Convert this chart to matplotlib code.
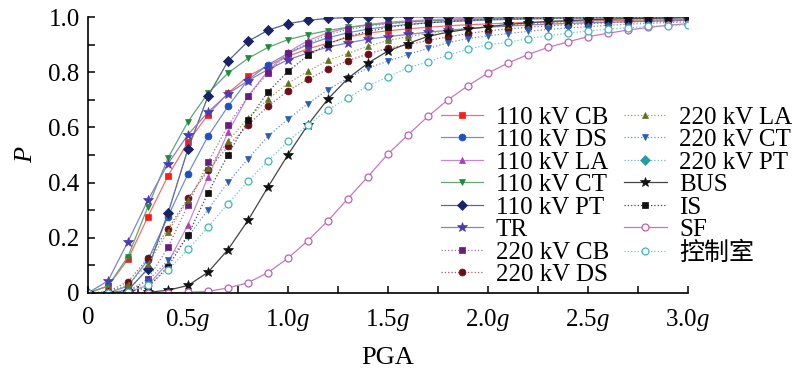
import matplotlib
matplotlib.use("Agg")
import matplotlib.pyplot as plt
from matplotlib import font_manager
from matplotlib.ticker import MultipleLocator

serif = 'Liberation Serif'
try:
    font_manager.findfont(serif, fallback_to_default=False)
except Exception:
    serif = 'DejaVu Serif'

plt.rcParams['font.family'] = [serif, 'Noto Sans CJK SC']
plt.rcParams['mathtext.fontset'] = 'custom'
plt.rcParams['mathtext.rm'] = serif
plt.rcParams['mathtext.it'] = serif + ':italic'

pga = [0.0, 0.1, 0.2, 0.3, 0.4, 0.5, 0.6, 0.7, 0.8, 0.9, 1.0,
       1.1, 1.2, 1.3, 1.4, 1.5, 1.6, 1.7, 1.8, 1.9, 2.0,
       2.1, 2.2, 2.3, 2.4, 2.5, 2.6, 2.7, 2.8, 2.9, 3.0]

cb110 = [0, 0.025, 0.122, 0.277, 0.424, 0.547, 0.646, 0.724, 0.785, 0.824, 0.857,
         0.885, 0.905, 0.927, 0.942, 0.95, 0.957, 0.963, 0.968, 0.972, 0.975,
         0.978, 0.98, 0.982, 0.984, 0.986, 0.987, 0.988, 0.989, 0.99, 0.991]
ds110 = [0, 0, 0.025, 0.12, 0.277, 0.432, 0.568, 0.676, 0.772, 0.827, 0.868,
         0.9, 0.925, 0.943, 0.956, 0.966, 0.973, 0.979, 0.983, 0.986, 0.989,
         0.991, 0.993, 0.994, 0.995, 0.996, 0.997, 0.997, 0.998, 0.998, 0.999]
la110 = [0, 0, 0.003, 0.028, 0.11, 0.247, 0.42, 0.582, 0.713, 0.805, 0.872,
         0.915, 0.943, 0.961, 0.973, 0.981, 0.986, 0.99, 0.993, 0.995, 0.996,
         0.997, 0.998, 0.998, 0.999, 0.999, 0.999, 1, 1, 1, 1]
ct110 = [0, 0.025, 0.132, 0.313, 0.489, 0.621, 0.724, 0.797, 0.85, 0.89, 0.918,
         0.936, 0.951, 0.963, 0.971, 0.977, 0.982, 0.986, 0.989, 0.991, 0.993,
         0.994, 0.995, 0.996, 0.997, 0.997, 0.998, 0.998, 0.998, 0.999, 0.999]
pt110 = [0, 0, 0.01, 0.088, 0.289, 0.522, 0.713, 0.84, 0.912, 0.952, 0.976,
         0.988, 0.995, 0.998, 0.999, 1, 1, 1, 1, 1, 1,
         1, 1, 1, 1, 1, 1, 1, 1, 1, 1]
tr = [0, 0.044, 0.186, 0.337, 0.468, 0.574, 0.655, 0.722, 0.769, 0.81, 0.845,
      0.87, 0.891, 0.906, 0.92, 0.929, 0.937, 0.945, 0.952, 0.958, 0.963,
      0.967, 0.971, 0.974, 0.977, 0.979, 0.981, 0.983, 0.985, 0.986, 0.988]
cb220 = [0, 0, 0.005, 0.05, 0.165, 0.319, 0.473, 0.607, 0.712, 0.797, 0.869,
         0.905, 0.936, 0.955, 0.967, 0.975, 0.981, 0.985, 0.988, 0.99, 0.992,
         0.993, 0.994, 0.995, 0.996, 0.997, 0.997, 0.998, 0.998, 0.998, 0.999]
ds220 = [0, 0.005, 0.041, 0.126, 0.232, 0.343, 0.444, 0.531, 0.609, 0.676, 0.733,
         0.775, 0.811, 0.842, 0.866, 0.887, 0.9, 0.915, 0.928, 0.94, 0.95,
         0.957, 0.963, 0.968, 0.972, 0.976, 0.979, 0.982, 0.984, 0.986, 0.988]
la220 = [0, 0.003, 0.03, 0.105, 0.222, 0.337, 0.452, 0.55, 0.634, 0.702, 0.76,
         0.803, 0.843, 0.868, 0.894, 0.915, 0.929, 0.94, 0.95, 0.958, 0.965,
         0.97, 0.975, 0.979, 0.982, 0.985, 0.987, 0.989, 0.99, 0.991, 0.992]
ct220 = [0, 0, 0.005, 0.045, 0.118, 0.203, 0.302, 0.401, 0.486, 0.568, 0.63,
         0.686, 0.737, 0.779, 0.815, 0.84, 0.864, 0.886, 0.907, 0.922, 0.932,
         0.94, 0.948, 0.955, 0.96, 0.965, 0.97, 0.974, 0.977, 0.98, 0.982]
pt220 = [0, 0, 0.01, 0.088, 0.289, 0.522, 0.713, 0.84, 0.912, 0.952, 0.976,
         0.988, 0.995, 0.998, 0.999, 1, 1, 1, 1, 1, 1,
         1, 1, 1, 1, 1, 1, 1, 1, 1, 1]
bus = [0, 0, 0, 0.002, 0.01, 0.027, 0.075, 0.157, 0.263, 0.384, 0.501,
       0.61, 0.703, 0.778, 0.833, 0.877, 0.904, 0.93, 0.945, 0.956, 0.965,
       0.973, 0.979, 0.984, 0.987, 0.99, 0.992, 0.994, 0.995, 0.996, 0.997]
isw = [0, 0, 0.003, 0.02, 0.095, 0.21, 0.362, 0.501, 0.625, 0.729, 0.803,
       0.861, 0.902, 0.93, 0.948, 0.962, 0.972, 0.979, 0.984, 0.988, 0.991,
       0.993, 0.994, 0.995, 0.996, 0.997, 0.998, 0.998, 0.999, 0.999, 0.999]
sf = [0, 0, 0, 0, 0, 0.002, 0.006, 0.018, 0.037, 0.074, 0.126,
      0.19, 0.262, 0.342, 0.422, 0.504, 0.573, 0.64, 0.7, 0.751, 0.797,
      0.833, 0.864, 0.89, 0.91, 0.929, 0.941, 0.953, 0.962, 0.97, 0.976]
ctrl = [0, 0, 0.005, 0.03, 0.084, 0.158, 0.238, 0.324, 0.405, 0.479, 0.55,
        0.61, 0.664, 0.706, 0.751, 0.783, 0.816, 0.838, 0.862, 0.883, 0.9,
        0.908, 0.922, 0.932, 0.941, 0.95, 0.956, 0.961, 0.966, 0.969, 0.972]

# label, data, marker color, line color, marker, linestyle, hollow
series = [
    ("110 kV CB", cb110, "#ff1a1a", "#f07070", "s", "-", False),
    ("110 kV DS", ds110, "#2050c0", "#7090d0", "o", "-", False),
    ("110 kV LA", la110, "#b03cc0", "#c888d0", "^", "-", False),
    ("110 kV CT", ct110, "#1f8a3a", "#60a870", "v", "-", False),
    ("110 kV PT", pt110, "#1c2266", "#606890", "D", "-", False),
    ("TR", tr, "#4a3cb0", "#8880c8", "*", "-", False),
    ("220 kV CB", cb220, "#6a1c80", "#a070b0", "s", ":", False),
    ("220 kV DS", ds220, "#6a1018", "#a06060", "o", ":", False),
    ("220 kV LA", la220, "#667020", "#9aa050", "^", ":", False),
    ("220 kV CT", ct220, "#2a5cb8", "#7090c8", "v", ":", False),
    ("220 kV PT", pt220, "#2a9a9a", "#70b8b8", "D", ":", False),
    ("BUS", bus, "#111111", "#444444", "*", "-", False),
    ("IS", isw, "#111111", "#444444", "s", ":", False),
    ("SF", sf, "#c060b0", "#c878c0", "o", "-", True),
    ("控制室", ctrl, "#3cb8b8", "#70c8c8", "o", ":", True),
]

fig = plt.figure(figsize=(8, 3.78), dpi=100)
ax = fig.add_axes([0.11, 0.225, 0.75, 0.730])

for label, vals, mc, lc, mk, ls, hollow in series:
    ms = 7 if mk == "*" else 5
    z = 1 if label == "220 kV PT" else 2
    ax.plot(pga, vals, color=lc, linestyle=ls, linewidth=0.9,
            marker=mk, markersize=ms,
            markerfacecolor="white" if hollow else mc,
            markeredgecolor=mc, markeredgewidth=0.9 if hollow else 0.5,
            label=label, zorder=z)

ax.set_xlim(0, 3.0)
ax.set_ylim(0, 1.0)
ax.spines['top'].set_visible(False)
ax.spines['right'].set_visible(False)
for s in ['left', 'bottom']:
    ax.spines[s].set_linewidth(1.2)

ax.xaxis.set_minor_locator(MultipleLocator(0.25))
ax.yaxis.set_minor_locator(MultipleLocator(0.1))
ax.set_xticks([0, 0.5, 1.0, 1.5, 2.0, 2.5, 3.0])
ax.set_xticklabels(["0", r"0.5$\mathit{g}$", r"1.0$\mathit{g}$", r"1.5$\mathit{g}$",
                    r"2.0$\mathit{g}$", r"2.5$\mathit{g}$", r"3.0$\mathit{g}$"])
ax.set_yticks([0, 0.2, 0.4, 0.6, 0.8, 1.0])
ax.set_yticklabels(["0", "0.2", "0.4", "0.6", "0.8", "1.0"])
ax.tick_params(which='both', direction='in', length=5, width=1.1, labelsize=18)
ax.tick_params(axis='x', pad=10)
ax.tick_params(axis='y', pad=6)

ax.set_xlabel("PGA", fontsize=19, labelpad=10)
ax.set_ylabel("P", fontsize=19, fontstyle='italic', labelpad=8)

fig.legend(loc='upper left', bbox_to_anchor=(0.551, 0.719), ncol=2,
           frameon=False, fontsize=18, handlelength=1.7, handletextpad=0.5,
           columnspacing=0.6, labelspacing=0.0, borderpad=0, borderaxespad=0,
           numpoints=1)

fig.savefig("out.png", dpi=100)
